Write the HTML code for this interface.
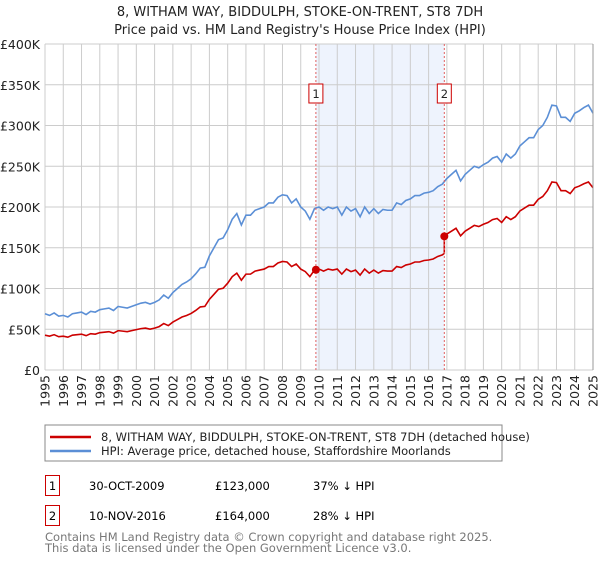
<!DOCTYPE html>
<html><head><meta charset="utf-8"><style>
body{margin:0;background:#fff;font-family:"DejaVu Sans","Liberation Sans",sans-serif;}
svg text{font-family:"DejaVu Sans","Liberation Sans",sans-serif;}
</style></head><body>
<svg id="c" width="600" height="560" xmlns="http://www.w3.org/2000/svg">
<text x="300" y="16" text-anchor="middle" font-size="13" fill="#222">8, WITHAM WAY, BIDDULPH, STOKE-ON-TRENT, ST8 7DH</text>
<text x="300" y="34" text-anchor="middle" font-size="13" fill="#222">Price paid vs. HM Land Registry's House Price Index (HPI)</text>
<g id="plot"></g>
<rect x="45" y="425" width="457" height="36" fill="#fff" stroke="#888"/>
<line x1="50" y1="437" x2="91" y2="437" stroke="#cc0000" stroke-width="2.5"/>
<text x="101" y="441" font-size="11.5" fill="#222">8, WITHAM WAY, BIDDULPH, STOKE-ON-TRENT, ST8 7DH (detached house)</text>
<line x1="50" y1="451" x2="91" y2="451" stroke="#5b8fd6" stroke-width="2.5"/>
<text x="101" y="455" font-size="11.5" fill="#222">HPI: Average price, detached house, Staffordshire Moorlands</text>
<g>
<rect x="45.5" y="475.5" width="14" height="20" fill="#fff" stroke="#c00"/>
<text x="52.5" y="490" text-anchor="middle" font-size="11.5">1</text>
<text x="89" y="490" font-size="11.5">30-OCT-2009</text>
<text x="215" y="490" font-size="11.5">£123,000</text>
<text x="313" y="490" font-size="11.5">37% ↓ HPI</text></g>
<g>
<rect x="45.5" y="505.5" width="14" height="20" fill="#fff" stroke="#c00"/>
<text x="52.5" y="520" text-anchor="middle" font-size="11.5">2</text>
<text x="89" y="520" font-size="11.5">10-NOV-2016</text>
<text x="215" y="520" font-size="11.5">£164,000</text>
<text x="313" y="520" font-size="11.5">28% ↓ HPI</text></g>
<text x="45" y="541" font-size="11.5" fill="#777">Contains HM Land Registry data © Crown copyright and database right 2025.</text>
<text x="45" y="552" font-size="11.5" fill="#777">This data is licensed under the Open Government Licence v3.0.</text>
</svg>
<script>
const hpi=[69,67,70,66, 67,65,69,70, 71,68,72,71, 74,75,76,73, 78,77,76,78, 80,82,83,81, 83,86,92,88, 95,100,105,108, 112,118,125,126, 140,150,160,162, 172,185,192,178, 190,190,196,198, 200,205,205,212, 215,214,205,210, 200,195,185,198, 200,196,200,198, 200,190,200,195, 198,188,200,192, 198,192,197,196, 196,205,203,208, 210,214,214,217, 218,220,225,228, 235,240,245,232, 240,245,250,248, 252,255,260,262, 255,265,260,265, 275,280,285,285, 295,300,310,325, 324,310,310,305, 315,318,322,325, 315];
const saleYears=[2009.83,2016.86];
const salePrices=[123,164];
const saleLabels=["1","2"];
const yTicks=[0,50,100,150,200,250,300,350,400];
const yTickLabels=["£0","£50K","£100K","£150K","£200K","£250K","£300K","£350K","£400K"];
const xTicks=[1995,1996,1997,1998,1999,2000,2001,2002,2003,2004,2005,2006,2007,2008,2009,2010,2011,2012,2013,2014,2015,2016,2017,2018,2019,2020,2021,2022,2023,2024,2025];
const NS="http://www.w3.org/2000/svg";
const X0=45,X1=593,Y0=370,Y1=44;
const x=t=>X0+(t-1995)/30*(X1-X0);
const y=v=>Y0-v/400*(Y0-Y1);
const g=document.getElementById('plot');
function mk(tag,attrs,parent){const e=document.createElementNS(NS,tag);for(const k in attrs)e.setAttribute(k,attrs[k]);(parent||g).appendChild(e);return e;}
const shade=mk('rect',{x:x(saleYears[0]),y:Y1,width:x(saleYears[1])-x(saleYears[0]),height:Y0-Y1,fill:'#eef3fd'});


yTicks.forEach((v,i)=>{
 const l=mk('line',{x1:X0,x2:X1,y1:y(v),y2:y(v),stroke:'#ccc'});
 
 
 const t=mk('text',{x:40,y:y(v)+5,'text-anchor':'end','font-size':'12.5',fill:'#222'});
 t.textContent=yTickLabels[i];
 
 
});
xTicks.forEach(yr=>{
 const l=mk('line',{x1:x(yr),x2:x(yr),y1:Y1,y2:Y0,stroke:'#ccc'});
 
 
 const t=mk('text',{x:0,y:0,'font-size':'12.5',fill:'#222','text-anchor':'end',transform:`translate(${x(yr)+4.5},375) rotate(-90)`});
 t.textContent=yr;
 
 
});
const hpiAt=t=>{const f=(t-1995)*4,i=Math.min(Math.floor(f),hpi.length-2),r=f-i;return hpi[i]*(1-r)+hpi[i+1]*r;};
const r1=salePrices[0]/hpiAt(saleYears[0]),r2=salePrices[1]/hpiAt(saleYears[1]);
let bp='',rp='';
hpi.forEach((v,i)=>{const t=1995+i/4;bp+=(i?'L':'M')+x(t)+','+y(v);});
let first=true;
hpi.forEach((v,i)=>{const t=1995+i/4;
 if(i>0&&t>saleYears[1]&&1995+(i-1)/4<=saleYears[1]){rp+='L'+x(saleYears[1])+','+y(hpiAt(saleYears[1])*r1)+'L'+x(saleYears[1])+','+y(salePrices[1]);}
 const val=v*(t<=saleYears[1]?r1:r2);rp+=(first?'M':'L')+x(t)+','+y(val);first=false;});
const bl=mk('path',{d:bp,fill:'none',stroke:'#5b8fd6','stroke-width':1.6});


const rl=mk('path',{d:rp,fill:'none',stroke:'#cc0000','stroke-width':1.6});


saleYears.forEach((sy,i)=>{
 const l=mk('line',{x1:x(sy),x2:x(sy),y1:Y1,y2:Y0,stroke:'#e06060','stroke-dasharray':'2,2'});
 
 
 const b=mk('rect',{x:x(sy)-7,y:84,width:14,height:19,fill:'#fff',stroke:'#c00'});
 
 
 const t=mk('text',{x:x(sy)-3.5,y:98,'font-size':'11.5',fill:'#222'});
 t.textContent=saleLabels[i];
 
 
 const d=mk('circle',{cx:x(sy),cy:y(salePrices[i]),r:4,fill:'#cc0000'});
 
 
});
const ax=mk('line',{x1:X1,x2:X1,y1:Y1,y2:Y0,stroke:'#999'});


</script>
</body></html>
